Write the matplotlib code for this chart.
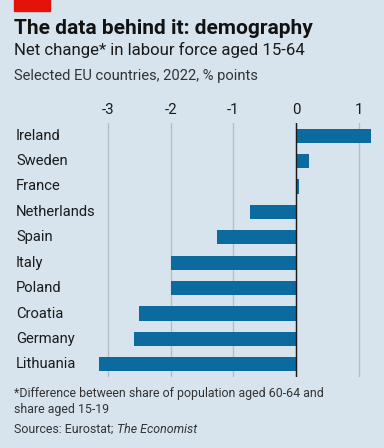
import matplotlib
matplotlib.use("Agg")
import matplotlib.pyplot as plt
from matplotlib.patches import Rectangle
import matplotlib.transforms as mtransforms

countries = ["Ireland", "Sweden", "France", "Netherlands", "Spain",
             "Italy", "Poland", "Croatia", "Germany", "Lithuania"]
values = [1.19, 0.21, 0.05, -0.74, -1.26, -2.0, -2.0, -2.51, -2.59, -3.15]
ticks = [-3, -2, -1, 0, 1]

bg = "#d7e4ee"
blue = "#0b6b9e"
plt.rcParams["font.family"] = ["Roboto", "DejaVu Sans"]

fig = plt.figure(figsize=(3.84, 4.48), dpi=100, facecolor=bg)
W, H = 384, 448

# red tag
fig.patches.append(Rectangle((14 / W, 1 - 11 / H), 36 / W, 11 / H,
                             transform=fig.transFigure, color="#e3120b"))

fig.text(14 / W, 1 - 28 / H, "The data behind it: demography", fontsize=15,
         fontweight="bold", color="#121212", va="center")
fig.text(14 / W, 1 - 50 / H, "Net change* in labour force aged 15-64", fontsize=12.1,
         color="#1a1a1a", va="center")
fig.text(14 / W, 1 - 76 / H, "Selected EU countries, 2022, % points", fontsize=10.6,
         color="#333333", va="center")

ax = fig.add_axes([95.4 / W, 1 - 377 / H, (374.4 - 95.4) / W, (377 - 123) / H])
ax.set_facecolor(bg)
y = list(range(len(countries)))
ax.barh(y, values, height=0.56, color=blue, zorder=3)
ax.set_ylim(len(countries) - 0.5, -0.5)
ax.set_xlim(-3.2, 1.25)
ax.set_xticks(ticks)
ax.set_xticklabels([str(t) for t in ticks])
ax.xaxis.tick_top()
ax.tick_params(axis="x", length=0, labelsize=10.8, colors="#1a1a1a", pad=4)
ax.set_yticks([])
for s in ax.spines.values():
    s.set_visible(False)
ax.grid(axis="x", color="#b4bec6", linewidth=1, zorder=1)
ax.axvline(0, color="#1a1a1a", linewidth=1, zorder=4)

lab_tr = mtransforms.blended_transform_factory(fig.transFigure, ax.transData)
for i, c in enumerate(countries):
    ax.text(16 / W, i, c, transform=lab_tr, fontsize=10.6,
            color="#1a1a1a", va="center", ha="left")

fig.text(14 / W, 1 - 393 / H, "*Difference between share of population aged 60-64 and",
         fontsize=8.9, color="#333333", va="center")
fig.text(14 / W, 1 - 409 / H, "share aged 15-19", fontsize=8.9, color="#333333", va="center")
src = fig.text(14 / W, 1 - 429 / H, "Sources: Eurostat; ", fontsize=8.9, color="#333333",
               va="center")
fig.canvas.draw()
bb = src.get_window_extent()
fig.text(bb.x1 / W, 1 - 429 / H, "The Economist", fontsize=8.9, color="#333333",
         va="center", style="italic")

fig.savefig("out.png", dpi=100, facecolor=bg)
